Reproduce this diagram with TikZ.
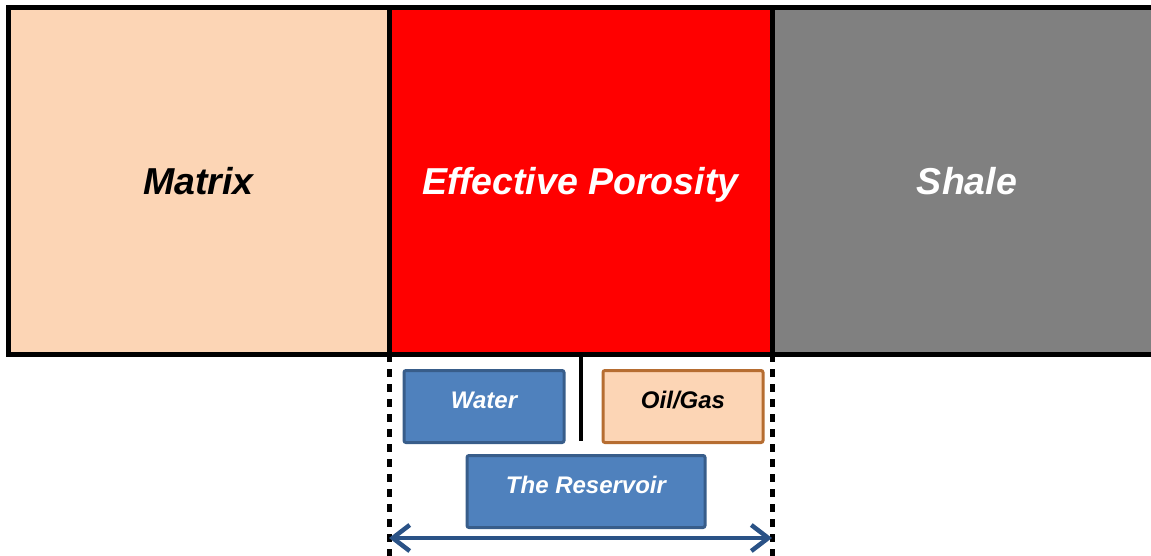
\documentclass[tikz,border=0pt]{standalone}
\usepackage{fontspec}
\setmainfont{Liberation Sans}
\usepackage{tikz}
\usepackage{xcolor}
\usetikzlibrary{arrows.meta,positioning}
\definecolor{peach}{HTML}{FCD5B5}
\definecolor{waterblue}{HTML}{4F81BD}
\definecolor{waterline}{HTML}{385D8A}
\definecolor{oilline}{HTML}{B66D31}
\definecolor{arrowblue}{HTML}{2A5286}
\tikzset{%
  tipR/.tip={Straight Barb[length=17pt,width=26pt]},
  bigbox/.style={draw=black, line width=5pt, outer sep=0pt, minimum height=346pt,
    text height=27pt, text depth=0pt,
    font=\fontsize{37.5}{44}\selectfont\bfseries\itshape},
  smallbox/.style={line width=3pt, rounded corners=2pt, outer sep=0pt, inner sep=0pt,
    minimum height=72pt, text height=17pt, text depth=14pt,
    font=\fontsize{24}{28}\selectfont\bfseries\itshape},
  dashline/.style={line width=5pt, dash pattern=on 8pt off 7pt}
}
\begin{document}
\begin{tikzpicture}[x=1pt,y=-1pt]
\useasboundingbox (0,0) rectangle (1151,556);
% top row
\node[bigbox, fill=peach, minimum width=381pt] (matrix) at (198.5,181) {Matrix};
\node[bigbox, fill=red, text=white, minimum width=383pt, right=0pt of matrix] (effective) {Effective Porosity};
\node[bigbox, fill=gray, text=white, minimum width=390pt, right=0pt of effective] (shale) {Shale};
% bounds of the porosity
\coordinate (leftend) at (effective.south west |- 0,556);
\coordinate (rightend) at (effective.south east |- 0,556);
\draw[dashline] (effective.south west) -- (leftend);
\draw[dashline] (effective.south east) -- (rightend);
\coordinate (divend) at (effective.south |- 0,441);
\draw[line width=4pt] (effective.south) -- (divend);
% fluids
\node[smallbox, draw=waterline, fill=waterblue, text=white, minimum width=160pt] (water) at (484,406.5) {Water};
\node[smallbox, draw=oilline, fill=peach, minimum width=160pt] (oilgas) at (683,406.5) {Oil/Gas};
\node[smallbox, draw=waterline, fill=waterblue, text=white, minimum width=238pt] (reservoir) at (586,491.5) {The Reservoir};
% span of the reservoir
\coordinate (resleft) at (effective.south west |- 0,538);
\coordinate (resright) at (effective.south east |- 0,538);
\draw[arrowblue, line width=4.5pt, tipR-tipR] (resleft) -- (resright);
\end{tikzpicture}
\end{document}
